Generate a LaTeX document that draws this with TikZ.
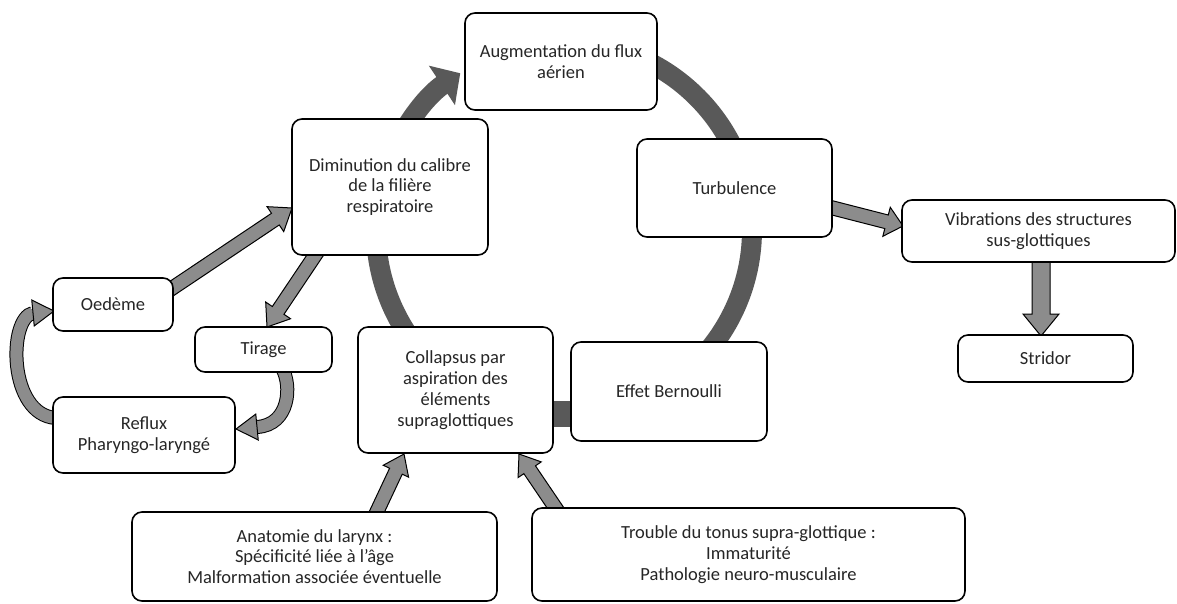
\documentclass[tikz,border=0pt]{standalone}
\usepackage{fontspec}
\setmainfont{Carlito}
\usetikzlibrary{calc,arrows.meta}
\definecolor{ringgray}{HTML}{595959}
\definecolor{arrowgray}{HTML}{8C8C8C}
\definecolor{txtgray}{HTML}{262626}
\pgfdeclarelayer{bg}
\pgfsetlayers{bg,main}
% #1 from, #2 to, #3 shaft half width, #4 head half width, #5 head length
\newcommand\fatarrow[5]{%
  \draw[fatarrow] let \p1=(#1), \p2=(#2), \p3=($(\p2)!#5!(\p1)$) in
  ($(\p1)!#3!90:(\p2)$) -- ($(\p3)!#3!90:(\p2)$) -- ($(\p3)!#4!90:(\p2)$) -- (\p2)
  -- ($(\p3)!#4!-90:(\p2)$) -- ($(\p3)!#3!-90:(\p2)$) -- ($(\p1)!#3!-90:(\p2)$) -- cycle;}
% #1 base centre, #2 tip, #3 half width
\newcommand\headtri[3]{%
  \draw[fatarrow] let \p1=(#1), \p2=(#2) in
  ($(\p1)!#3!90:(\p2)$) -- (\p2) -- ($(\p1)!#3!-90:(\p2)$) -- cycle;}
\begin{document}
\begin{tikzpicture}[x=1pt,y=-1pt,
  box/.style={draw=black, line width=1.6pt, rounded corners=10pt, fill=white,
    align=center, inner sep=0pt, text=txtgray, font=\fontsize{18.5}{20.8}\selectfont},
  ring/.style={draw=ringgray, line width=20pt},
  bar/.style={draw=ringgray, line width=26pt},
  fatarrow/.style={draw=black, line width=1pt, fill=arrowgray, line join=miter},
  band/.style={draw=black, line width=1pt, double=arrowgray, double distance=12pt}]
\useasboundingbox (0,0) rectangle (1177,603);

% nodes
\node[box, minimum width=192pt, minimum height=97pt] (aug) at (561,61.5) {Augmentation du flux\\aérien};
\node[box, minimum width=196pt, minimum height=136pt] (dim) at (390,187) {Diminution du calibre\\de la filière\\respiratoire};
\node[box, minimum width=195pt, minimum height=98pt] (turb) at (734.5,188) {Turbulence};
\node[box, minimum width=273pt, minimum height=62pt] (vib) at (1038.5,231) {Vibrations des structures\\sus-glottiques};
\node[box, minimum width=175pt, minimum height=47pt] (strid) at (1045.5,358.5) {Stridor};
\node[box, minimum width=120pt, minimum height=53pt] (oed) at (113,304.5) {Oedème};
\node[box, minimum width=137pt, minimum height=45pt] (tir) at (263.5,349.5) {Tirage};
\node[box, minimum width=182pt, minimum height=76pt] (refl) at (144,435) {Reflux\\Pharyngo-laryngé};
\node[box, minimum width=195pt, minimum height=126pt] (coll) at (455.5,390) {Collapsus par\\aspiration des\\éléments\\supraglottiques};
\node[box, minimum width=196pt, minimum height=99pt] (bern) at (669,391.5) {Effet Bernoulli};
\node[box, minimum width=365pt, minimum height=89pt] (anat) at (314.5,556.5) {Anatomie du larynx :\\Spécificité liée à l'âge\\Malformation associée éventuelle};
\node[box, minimum width=433pt, minimum height=93pt] (troub) at (748.5,554.5) {Trouble du tonus supra-glottique :\\Immaturité\\Pathologie neuro-musculaire};

% connector end points
\coordinate (c) at (564,230);
\coordinate (barY) at (0,413.5);
\coordinate (t1) at (320,248);  \coordinate (h1) at (267,327);
\coordinate (t2) at (165,293);  \coordinate (h2) at (292,208);
\coordinate (t3) at (825,206);  \coordinate (h3) at (903,226);
\coordinate (t4) at (1041,255); \coordinate (h4) at (1041,336);
\coordinate (t5) at (373,520);  \coordinate (h5) at (404,454);
\coordinate (t6) at (561,516);  \coordinate (h6) at (519,454);
\coordinate (r1) at (56,418);   \coordinate (r2) at (33,313);   \coordinate (r3) at (54,311);
\coordinate (s1) at (282,368);  \coordinate (s2) at (257,427);  \coordinate (s3) at (236,429);

\begin{pgfonlayer}{bg}
  \fill[white] (0,0) rectangle (1177,603);
  % main cycle
  \draw[ring, -{Triangle[width=46pt,length=22pt]}] ($(c)+(160:188pt)$) arc[start angle=160, end angle=123.5, radius=188pt];
  \draw[ring] ($(c)+(65:188pt)$) arc[start angle=65, end angle=15, radius=188pt];
  \draw[ring] ($(c)+(5:188pt)$) arc[start angle=5, end angle=-50, radius=188pt];
  \draw[ring] ($(c)+(225:188pt)$) arc[start angle=225, end angle=185, radius=188pt];
  \draw[bar] (coll.east |- barY) -- (bern.west |- barY);
  % straight grey arrows
  \fatarrow{t1}{h1}{7pt}{15pt}{20pt}
  \fatarrow{t2}{h2}{7pt}{15pt}{20pt}
  \fatarrow{t3}{h3}{7pt}{15pt}{17pt}
  \fatarrow{t4}{h4}{9pt}{18pt}{22pt}
  \fatarrow{t5}{h5}{7pt}{14pt}{19pt}
  \fatarrow{t6}{h6}{7pt}{14pt}{19pt}
  % curved grey arrows
  \draw[band] (r1) .. controls (8,415) and (8,318) .. (r2);
  \headtri{r2}{r3}{13pt}
  \draw[band] (s1) .. controls (292,385) and (290,425) .. (s2);
  \headtri{s2}{s3}{13pt}
\end{pgfonlayer}
\end{tikzpicture}
\end{document}
